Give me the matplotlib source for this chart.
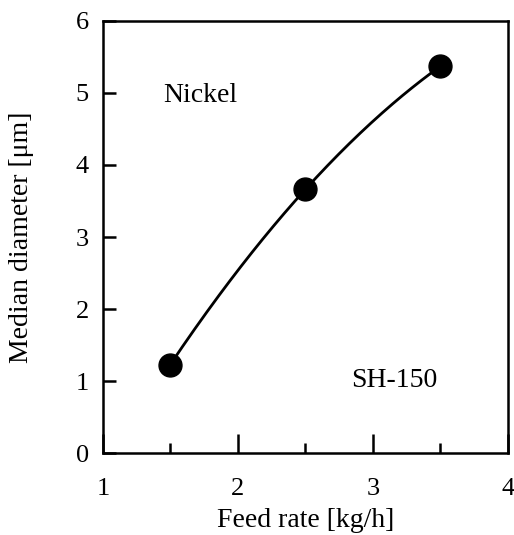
import numpy as np
import matplotlib.pyplot as plt

plt.rcParams['font.family'] = ['Liberation Serif', 'DejaVu Serif']
plt.rcParams['mathtext.fontset'] = 'stix'

# data
feed_rate = [1.5, 2.5, 3.5]
median_diameter = [1.23, 3.66, 5.37]

fig = plt.figure(figsize=(5.14, 5.35), dpi=100)
ax = fig.add_axes([0.200, 0.153, 0.788, 0.808])

# smooth curve through the three points
coef = np.polyfit(feed_rate, median_diameter, 2)
xs = np.linspace(feed_rate[0], feed_rate[-1], 200)
ax.plot(xs, np.polyval(coef, xs), color='black', linewidth=2.0)
ax.plot(feed_rate, median_diameter, 'o', color='black', markersize=16.5)

ax.set_xlim(1, 4)
ax.set_ylim(0, 6)
ax.set_xticks([1, 2, 3, 4])
ax.set_xticks([1.5, 2.5, 3.5], minor=True)
ax.set_yticks(range(0, 7))

for s in ax.spines.values():
    s.set_linewidth(1.8)
ax.tick_params(axis='x', which='major', direction='in', length=14, width=1.8,
               labelsize=19, pad=18)
ax.tick_params(axis='x', which='minor', direction='in', length=7, width=1.8)
ax.tick_params(axis='y', which='major', direction='in', length=9, width=1.8,
               labelsize=19, pad=10)

ax.set_xlabel('Feed rate [kg/h]', fontsize=20, labelpad=6)
ax.set_ylabel('Median diameter [μm]', fontsize=20, va='center')
ax.yaxis.set_label_coords(-0.2, 0.5)

ax.text(1.72, 4.97, 'Nickel', fontsize=20, ha='center', va='center')
ax.text(3.16, 1.01, 'SH-150', fontsize=20, ha='center', va='center')

plt.savefig('out.png', dpi=100)
